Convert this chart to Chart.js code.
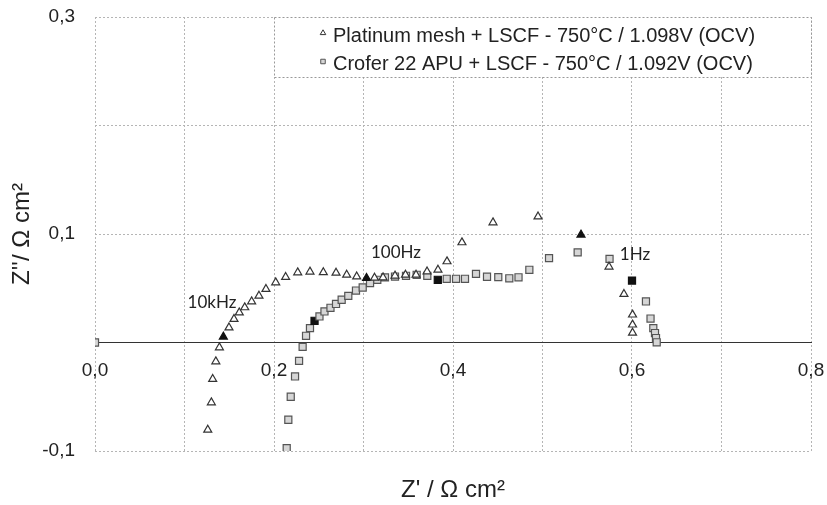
<!DOCTYPE html>
<html>
<head>
<meta charset="utf-8">
<script src="https://cdn.jsdelivr.net/npm/chart.js@4.4.0/dist/chart.umd.min.js"></script>
<style>
  html, body { margin: 0; padding: 0; background: #fff; }
  #wrap { width: 827px; height: 505px; }
</style>
</head>
<body>
<div id="wrap"><canvas id="myChart"></canvas></div>
<script>
// Platinum mesh + LSCF (triangles), Z' and Z'' in Ohm cm2
const PT_X = [0.126, 0.130, 0.1315, 0.135, 0.139, 0.1434, 0.1497, 0.1553, 0.1612, 0.1673,
              0.175, 0.1832, 0.191, 0.2019, 0.213, 0.2265, 0.2402, 0.2551, 0.2693, 0.2812,
              0.2924, 0.3034, 0.3123, 0.3218, 0.3352, 0.3469, 0.3587, 0.371, 0.3832, 0.3933,
              0.410, 0.4447, 0.495, 0.543, 0.5743, 0.591, 0.6006, 0.6006, 0.6006];
const PT_Y = [-0.0805, -0.0553, -0.0337, -0.0175, -0.0046, 0.0053, 0.0138, 0.0216, 0.0276, 0.0323,
              0.0378, 0.043, 0.0492, 0.0553, 0.0603, 0.0645, 0.0652, 0.0647, 0.0642, 0.0624,
              0.0608, 0.0594, 0.0596, 0.0599, 0.0615, 0.0624, 0.0624, 0.0654, 0.067, 0.0747,
              0.0922, 0.1106, 0.1161, 0.0993, 0.0698, 0.0446, 0.0256, 0.0164, 0.0089];
const PT_DECADES = [5, 21, 33]; // 10kHz, 100Hz, 1Hz

// Crofer 22 APU + LSCF (squares)
const CR_X = [0, 0.2142, 0.216, 0.2187, 0.2235, 0.228, 0.232, 0.2358, 0.2402, 0.2453,
              0.2508, 0.2564, 0.2631, 0.2693, 0.2756, 0.283, 0.2916, 0.2991, 0.3073, 0.3154,
              0.324, 0.3352, 0.3475, 0.3594, 0.3713, 0.383, 0.393, 0.4034, 0.4134, 0.4257,
              0.438, 0.4506, 0.4629, 0.4732, 0.4853, 0.5073, 0.5393, 0.5749, 0.600, 0.6156,
              0.6207, 0.6238, 0.6257, 0.6268, 0.6276];
const CR_Y = [0, -0.0973, -0.0712, -0.050, -0.0313, -0.0169, -0.004, 0.0062, 0.0133, 0.020,
              0.024, 0.0286, 0.032, 0.0355, 0.0394, 0.043, 0.0479, 0.0507, 0.0547, 0.0578,
              0.060, 0.0608, 0.0615, 0.0624, 0.0615, 0.0578, 0.0587, 0.0587, 0.0587, 0.0633,
              0.0606, 0.0603, 0.0592, 0.0601, 0.067, 0.0778, 0.0831, 0.0771, 0.0571, 0.0378,
              0.0221, 0.0133, 0.0087, 0.0041, 0.0002];
const CR_DECADES = [9, 25, 38];

const SERIES_LABELS = ['Platinum mesh + LSCF - 750°C / 1.098V (OCV)',
                       'Crofer 22 APU + LSCF - 750°C / 1.092V (OCV)'];

// frequency annotations
const FREQ_LABELS = ['10kHz', '100Hz', '1Hz'];
const FREQ_X = [0.1307, 0.3363, 0.6034];
const FREQ_Y = [0.0366, 0.0827, 0.0808];

const X_LABELS = [0, 0.2, 0.4, 0.6, 0.8];
const Y_LABELS = [-0.1, 0.1, 0.3];

function toPoints(xs, ys) {
    return xs.map((x, i) => ({x: x, y: ys[i]}));
}
function fmt(v) {
    return v.toFixed(1).replace('.', ',');
}
function hasLabel(list, v) {
    return list.some(t => Math.abs(t - v) < 1e-6);
}

const legendBox = {
    id: 'legendBox',
    afterDatasetsDraw(chart) {
        const {ctx, chartArea, scales} = chart;
        const left = Math.round(scales.x.getPixelForValue(0.2));
        const top = Math.round(chartArea.top);
        const right = Math.round(chartArea.right);
        const h = 60;
        ctx.save();
        ctx.fillStyle = '#fff';
        ctx.fillRect(left, top, right - left, h);
        ctx.setLineDash([2, 2]);
        ctx.strokeStyle = '#999';
        ctx.lineWidth = 1;
        ctx.strokeRect(left + 0.5, top + 0.5, right - left, h);
        ctx.setLineDash([]);
        chart.data.datasets.forEach((ds, i) => {
            const y = top + 19 + i * 28.5;
            ctx.fillStyle = ds.legendFill;
            ctx.strokeStyle = ds.legendStroke;
            ctx.lineWidth = 1;
            Chart.helpers.drawPoint(ctx, {pointStyle: ds.pointStyle, radius: 3.2, borderWidth: 1, rotation: 0}, left + 49, y - 3);
            ctx.fillStyle = '#222';
            ctx.font = '20px "Liberation Sans", Arial, sans-serif';
            ctx.textBaseline = 'middle';
            ctx.textAlign = 'left';
            ctx.fillText(ds.label, left + 59, y);
        });
        ctx.restore();
    }
};

const freqNotes = {
    id: 'freqNotes',
    afterDatasetsDraw(chart) {
        const {ctx, scales} = chart;
        ctx.save();
        ctx.font = '17px Lato, "Open Sans", sans-serif';
        ctx.fillStyle = '#222';
        ctx.textAlign = 'center';
        ctx.textBaseline = 'middle';
        FREQ_LABELS.forEach((t, i) => {
            ctx.fillText(t, scales.x.getPixelForValue(FREQ_X[i]), scales.y.getPixelForValue(FREQ_Y[i]));
        });
        ctx.restore();
    }
};

const ctx = document.getElementById('myChart').getContext('2d');
const myChart = new Chart(ctx, {
    type: 'scatter',
    data: {
        datasets: [
            {
                label: SERIES_LABELS[0],
                data: toPoints(PT_X, PT_Y),
                pointStyle: 'triangle',
                pointRadius: 4.6,
                pointBorderWidth: 1.2,
                legendFill: '#fff',
                legendStroke: '#333',
                pointBackgroundColor: c => PT_DECADES.includes(c.dataIndex) ? '#111' : '#fff',
                pointBorderColor: c => PT_DECADES.includes(c.dataIndex) ? '#111' : '#333'
            },
            {
                label: SERIES_LABELS[1],
                data: toPoints(CR_X, CR_Y),
                pointStyle: 'rect',
                pointRadius: 5,
                pointBorderWidth: 1.2,
                legendFill: '#d6d6d6',
                legendStroke: '#555',
                pointBackgroundColor: c => CR_DECADES.includes(c.dataIndex) ? '#111' : '#d6d6d6',
                pointBorderColor: c => CR_DECADES.includes(c.dataIndex) ? '#111' : '#555'
            }
        ]
    },
    options: {
        responsive: true,
        maintainAspectRatio: false,
        animation: false,
        devicePixelRatio: 1,
        layout: {
            padding: {top: 17, right: 16, bottom: 0, left: 0}
        },
        plugins: {
            legend: {display: false},
            tooltip: {enabled: false}
        },
        scales: {
            x: {
                type: 'linear',
                position: 'bottom',
                min: 0,
                max: 0.8,
                ticks: {display: false, stepSize: 0.1},
                grid: {color: '#b5b5b5', drawTicks: false, lineWidth: 1},
                border: {display: false, dash: [2, 2]},
                title: {
                    display: true,
                    text: "Z' / Ω cm²",
                    color: '#222',
                    font: {family: '"Liberation Sans", Arial, sans-serif', size: 24},
                    padding: 0
                },
                afterFit: s => { s.height = 54; }
            },
            xz: {
                type: 'linear',
                position: {y: 0},
                min: 0,
                max: 0.8,
                ticks: {
                    stepSize: 0.2,
                    autoSkip: false,
                    padding: 17,
                    color: '#222',
                    font: {family: '"Liberation Sans", Arial, sans-serif', size: 19},
                    callback: v => hasLabel(X_LABELS, v) ? fmt(v) : ''
                },
                grid: {display: true, drawOnChartArea: false, drawTicks: false},
                border: {display: true, color: '#333', width: 1, dash: [3, 2]},
                afterFit: s => { s.height = 0; s.paddingLeft = 0; s.paddingRight = 0; }
            },
            y: {
                type: 'linear',
                position: 'left',
                min: -0.1,
                max: 0.3,
                ticks: {
                    stepSize: 0.1,
                    autoSkip: false,
                    padding: 20,
                    color: '#222',
                    font: {family: '"Liberation Sans", Arial, sans-serif', size: 19},
                    callback: v => hasLabel(Y_LABELS, v) ? fmt(v) : ''
                },
                grid: {color: '#b5b5b5', drawTicks: false, lineWidth: 1},
                border: {display: false, dash: [2, 2]},
                title: {
                    display: true,
                    text: "Z''/ Ω cm²",
                    color: '#222',
                    font: {family: '"Liberation Sans", Arial, sans-serif', size: 24},
                    padding: {top: 8, bottom: 0}
                },
                afterFit: s => { s.width = 95; s.paddingTop = 0; s.paddingBottom = 0; }
            }
        }
    },
    plugins: [legendBox, freqNotes]
});
</script>
</body>
</html>
